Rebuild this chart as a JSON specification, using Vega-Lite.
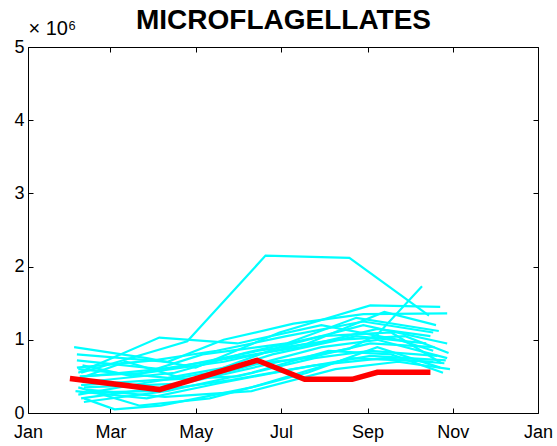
{
  "$schema": "https://vega.github.io/schema/vega-lite/v6.json",
  "width": 510,
  "height": 366,
  "autosize": "none",
  "padding": {"left": 28, "top": 47, "right": 19, "bottom": 33},
  "background": "white",
  "config": {
    "view": {"stroke": null},
    "axis": {"grid": false, "domainColor": "black", "tickColor": "black", "labelColor": "black", "titleColor": "black", "labelFont": "Liberation Sans", "titleFont": "Liberation Sans", "labelFontSize": 18, "tickSize": -5, "domainWidth": 1, "tickWidth": 1}
  },
  "datasets": {
    "cyan": [
      {"s": 1, "date": "2001-02-08", "v": 550000}, {"s": 1, "date": "2001-04-25", "v": 980000}, {"s": 1, "date": "2001-06-20", "v": 2150000}, {"s": 1, "date": "2001-08-19", "v": 2120000}, {"s": 1, "date": "2001-10-15", "v": 1330000},
      {"s": 2, "date": "2001-02-03", "v": 900000}, {"s": 2, "date": "2001-03-27", "v": 750000}, {"s": 2, "date": "2001-05-01", "v": 620000}, {"s": 2, "date": "2001-06-30", "v": 1100000}, {"s": 2, "date": "2001-09-03", "v": 1470000}, {"s": 2, "date": "2001-10-23", "v": 1450000},
      {"s": 3, "date": "2001-02-05", "v": 800000}, {"s": 3, "date": "2001-04-11", "v": 700000}, {"s": 3, "date": "2001-05-21", "v": 1000000}, {"s": 3, "date": "2001-07-10", "v": 1220000}, {"s": 3, "date": "2001-08-29", "v": 1350000}, {"s": 3, "date": "2001-10-28", "v": 1360000},
      {"s": 4, "date": "2001-02-06", "v": 550000}, {"s": 4, "date": "2001-04-05", "v": 1030000}, {"s": 4, "date": "2001-05-31", "v": 950000}, {"s": 4, "date": "2001-07-30", "v": 1200000}, {"s": 4, "date": "2001-09-23", "v": 1000000}, {"s": 4, "date": "2001-10-18", "v": 850000},
      {"s": 5, "date": "2001-02-10", "v": 200000}, {"s": 5, "date": "2001-03-04", "v": 50000}, {"s": 5, "date": "2001-04-06", "v": 100000}, {"s": 5, "date": "2001-06-10", "v": 350000}, {"s": 5, "date": "2001-08-19", "v": 750000}, {"s": 5, "date": "2001-10-18", "v": 700000},
      {"s": 6, "date": "2001-02-06", "v": 350000}, {"s": 6, "date": "2001-03-22", "v": 100000}, {"s": 6, "date": "2001-05-11", "v": 200000}, {"s": 6, "date": "2001-07-20", "v": 550000}, {"s": 6, "date": "2001-09-08", "v": 900000}, {"s": 6, "date": "2001-10-23", "v": 620000},
      {"s": 7, "date": "2001-02-05", "v": 620000}, {"s": 7, "date": "2001-04-01", "v": 720000}, {"s": 7, "date": "2001-05-16", "v": 850000}, {"s": 7, "date": "2001-07-05", "v": 1050000}, {"s": 7, "date": "2001-08-29", "v": 1250000}, {"s": 7, "date": "2001-10-18", "v": 1100000},
      {"s": 8, "date": "2001-02-08", "v": 200000}, {"s": 8, "date": "2001-04-06", "v": 350000}, {"s": 8, "date": "2001-05-31", "v": 600000}, {"s": 8, "date": "2001-07-30", "v": 900000}, {"s": 8, "date": "2001-09-08", "v": 1000000}, {"s": 8, "date": "2001-10-28", "v": 750000},
      {"s": 9, "date": "2001-02-04", "v": 450000}, {"s": 9, "date": "2001-03-12", "v": 700000}, {"s": 9, "date": "2001-04-26", "v": 450000}, {"s": 9, "date": "2001-06-25", "v": 800000}, {"s": 9, "date": "2001-08-24", "v": 1050000}, {"s": 9, "date": "2001-10-13", "v": 950000},
      {"s": 10, "date": "2001-02-10", "v": 350000}, {"s": 10, "date": "2001-04-21", "v": 400000}, {"s": 10, "date": "2001-06-30", "v": 700000}, {"s": 10, "date": "2001-08-19", "v": 880000}, {"s": 10, "date": "2001-09-08", "v": 1070000}, {"s": 10, "date": "2001-10-10", "v": 1730000},
      {"s": 11, "date": "2001-02-07", "v": 500000}, {"s": 11, "date": "2001-03-27", "v": 550000}, {"s": 11, "date": "2001-05-21", "v": 700000}, {"s": 11, "date": "2001-07-20", "v": 950000}, {"s": 11, "date": "2001-09-13", "v": 1380000}, {"s": 11, "date": "2001-10-20", "v": 1200000},
      {"s": 12, "date": "2001-02-10", "v": 150000}, {"s": 12, "date": "2001-04-11", "v": 300000}, {"s": 12, "date": "2001-06-10", "v": 550000}, {"s": 12, "date": "2001-08-04", "v": 850000}, {"s": 12, "date": "2001-09-18", "v": 800000}, {"s": 12, "date": "2001-10-25", "v": 550000},
      {"s": 13, "date": "2001-02-05", "v": 720000}, {"s": 13, "date": "2001-04-06", "v": 600000}, {"s": 13, "date": "2001-05-26", "v": 750000}, {"s": 13, "date": "2001-07-15", "v": 900000}, {"s": 13, "date": "2001-09-08", "v": 1150000}, {"s": 13, "date": "2001-10-16", "v": 1050000},
      {"s": 14, "date": "2001-02-08", "v": 380000}, {"s": 14, "date": "2001-04-01", "v": 450000}, {"s": 14, "date": "2001-05-31", "v": 500000}, {"s": 14, "date": "2001-07-25", "v": 750000}, {"s": 14, "date": "2001-09-03", "v": 850000}, {"s": 14, "date": "2001-10-21", "v": 780000},
      {"s": 15, "date": "2001-02-06", "v": 250000}, {"s": 15, "date": "2001-03-22", "v": 400000}, {"s": 15, "date": "2001-05-11", "v": 550000}, {"s": 15, "date": "2001-06-30", "v": 900000}, {"s": 15, "date": "2001-08-29", "v": 1200000}, {"s": 15, "date": "2001-10-28", "v": 950000},
      {"s": 16, "date": "2001-02-09", "v": 420000}, {"s": 16, "date": "2001-04-16", "v": 550000}, {"s": 16, "date": "2001-06-05", "v": 820000}, {"s": 16, "date": "2001-07-30", "v": 1050000}, {"s": 16, "date": "2001-09-18", "v": 1100000}, {"s": 16, "date": "2001-10-24", "v": 680000},
      {"s": 17, "date": "2001-02-12", "v": 320000}, {"s": 17, "date": "2001-04-09", "v": 220000}, {"s": 17, "date": "2001-06-10", "v": 300000}, {"s": 17, "date": "2001-08-09", "v": 600000}, {"s": 17, "date": "2001-09-23", "v": 700000}, {"s": 17, "date": "2001-10-30", "v": 600000},
      {"s": 18, "date": "2001-02-06", "v": 600000}, {"s": 18, "date": "2001-04-11", "v": 480000}, {"s": 18, "date": "2001-05-31", "v": 650000}, {"s": 18, "date": "2001-07-20", "v": 750000}, {"s": 18, "date": "2001-09-03", "v": 950000}, {"s": 18, "date": "2001-10-19", "v": 900000},
      {"s": 19, "date": "2001-02-07", "v": 280000}, {"s": 19, "date": "2001-04-01", "v": 300000}, {"s": 19, "date": "2001-05-26", "v": 450000}, {"s": 19, "date": "2001-07-25", "v": 650000}, {"s": 19, "date": "2001-09-13", "v": 750000}, {"s": 19, "date": "2001-10-26", "v": 680000},
      {"s": 20, "date": "2001-02-09", "v": 650000}, {"s": 20, "date": "2001-03-17", "v": 500000}, {"s": 20, "date": "2001-05-06", "v": 800000}, {"s": 20, "date": "2001-07-05", "v": 950000}, {"s": 20, "date": "2001-08-24", "v": 1300000}, {"s": 20, "date": "2001-10-22", "v": 1120000},
      {"s": 21, "date": "2001-02-04", "v": 300000}, {"s": 21, "date": "2001-03-27", "v": 200000}, {"s": 21, "date": "2001-05-16", "v": 400000}, {"s": 21, "date": "2001-07-10", "v": 600000}, {"s": 21, "date": "2001-09-03", "v": 780000}, {"s": 21, "date": "2001-10-27", "v": 720000},
      {"s": 22, "date": "2001-02-11", "v": 500000}, {"s": 22, "date": "2001-04-16", "v": 620000}, {"s": 22, "date": "2001-06-15", "v": 850000}, {"s": 22, "date": "2001-08-09", "v": 1000000}, {"s": 22, "date": "2001-09-28", "v": 1050000}, {"s": 22, "date": "2001-10-29", "v": 820000}
    ],
    "red": [
      {"date": "2001-01-31", "v": 470000},
      {"date": "2001-04-05", "v": 320000},
      {"date": "2001-06-14", "v": 720000},
      {"date": "2001-07-18", "v": 460000},
      {"date": "2001-08-21", "v": 460000},
      {"date": "2001-09-08", "v": 555000},
      {"date": "2001-10-16", "v": 555000}
    ]
  },
  "layer": [
    {
      "data": {"name": "cyan"},
      "mark": {"type": "line", "color": "#00FFFF", "strokeWidth": 2.2},
      "encoding": {
        "x": {"field": "date", "type": "temporal", "scale": {"type": "utc", "domain": ["2001-01-01", "2002-01-01"]}, "axis": {"orient": "bottom", "format": "%b", "tickCount": {"interval": "month", "step": 2}, "labelPadding": 15, "labelFlush": false, "labelOverlap": false, "title": null}},
        "y": {"field": "v", "type": "quantitative", "scale": {"domain": [0, 5000000], "nice": false}, "axis": {"orient": "left", "values": [0, 1000000, 2000000, 3000000, 4000000, 5000000], "labelExpr": "datum.value / 1000000", "labelPadding": 9, "title": "× 10⁶", "titleAngle": 0, "titleAlign": "left", "titleBaseline": "alphabetic", "titleX": 0, "titleY": -13, "titleFontSize": 20, "titleFontWeight": "normal"}},
        "detail": {"field": "s", "type": "nominal"}
      }
    },
    {
      "data": {"name": "red"},
      "mark": {"type": "line", "color": "#FF0000", "strokeWidth": 5.5},
      "encoding": {
        "x": {"field": "date", "type": "temporal", "axis": {"orient": "top", "labels": false, "tickCount": {"interval": "month", "step": 2}, "title": "MICROFLAGELLATES", "titleFont": "Liberation Sans", "titleFontSize": 28, "titleFontWeight": "bold", "titleAlign": "center", "titleBaseline": "alphabetic", "titleAnchor": "middle", "titleX": 255, "titleY": -19}},
        "y": {"field": "v", "type": "quantitative", "axis": {"orient": "right", "labels": false, "values": [0, 1000000, 2000000, 3000000, 4000000, 5000000], "title": null}}
      }
    }
  ],
  "resolve": {"axis": {"x": "independent", "y": "independent"}}
}
